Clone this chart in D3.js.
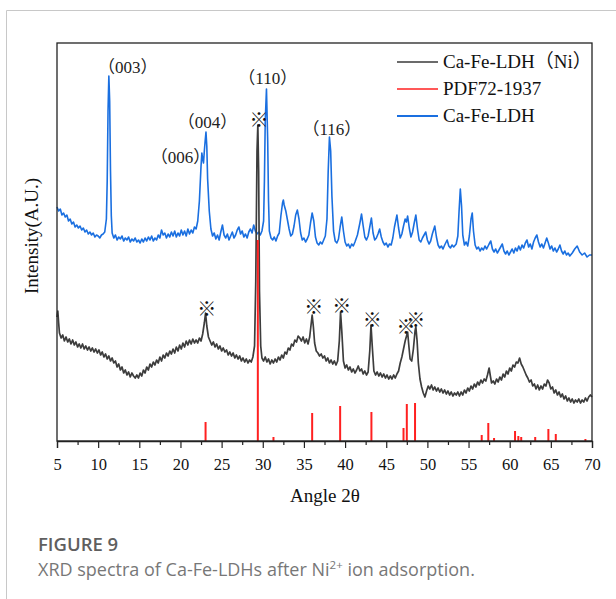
<!DOCTYPE html>
<html>
<head>
<meta charset="utf-8">
<script src="https://cdn.jsdelivr.net/npm/d3@7"></script>
<style>
  body { margin: 0; background: #fff; }
</style>
</head>
<body>
<div id="chart"></div>
<script>
var w = 616;
var h = 599;

// Ca-Fe-LDH (blue), [2theta, intensity a.u.]
var ldh = [
  [5.0,234],[5.2,230],[5.4,232],[5.6,226],[5.8,228],[6.0,224],[6.2,226],[6.4,220],[6.6,222],[6.8,217],
  [7.0,219],[7.2,214],[7.4,216],[7.6,213],[7.8,215],[8.0,211],[8.2,213],[8.4,209],[8.6,211],[8.8,207],
  [9.0,209],[9.2,206],[9.4,208],[9.6,204],[9.8,206],[10.0,205],[10.2,203],[10.4,206],[10.6,207],[10.8,209],
  [11.0,222],[11.1,260],[11.2,330],[11.3,365],[11.4,340],[11.5,270],[11.6,225],[11.7,208],[11.9,203],[12.1,206],
  [12.3,201],[12.5,204],[12.7,202],[12.9,205],[13.1,200],[13.3,203],[13.5,201],[13.7,204],[13.9,199],[14.1,202],
  [14.3,200],[14.5,203],[14.7,199],[14.9,201],[15.1,198],[15.3,202],[15.5,199],[15.7,203],[15.9,200],[16.1,204],
  [16.3,201],[16.5,205],[16.7,200],[16.9,203],[17.1,201],[17.3,206],[17.5,203],[17.7,211],[17.9,206],[18.1,208],
  [18.3,203],[18.5,207],[18.7,204],[18.9,209],[19.1,205],[19.3,210],[19.5,204],[19.7,208],[19.9,205],[20.1,211],
  [20.3,206],[20.5,210],[20.7,205],[20.9,212],[21.1,207],[21.3,211],[21.5,208],[21.7,214],[21.9,212],[22.1,220],
  [22.3,240],[22.5,275],[22.6,288],[22.7,282],[22.8,278],[22.9,290],[23.0,300],[23.1,309],[23.2,295],[23.3,262],
  [23.5,230],[23.7,212],[23.9,205],[24.1,208],[24.3,202],[24.5,206],[24.7,201],[24.9,209],[25.1,216],[25.3,206],
  [25.5,203],[25.7,207],[25.9,201],[26.1,205],[26.3,209],[26.5,203],[26.7,206],[26.9,211],[27.1,214],[27.3,207],
  [27.5,210],[27.7,204],[27.9,207],[28.1,203],[28.3,209],[28.5,212],[28.7,208],[28.9,216],[29.1,210],[29.3,207],
  [29.5,209],[29.7,206],[29.9,210],[30.1,220],[30.2,260],[30.3,320],[30.45,352],[30.6,300],[30.7,240],[30.8,210],
  [31.0,203],[31.2,201],[31.4,204],[31.6,200],[31.8,205],[32.0,208],[32.2,225],[32.4,238],[32.5,241],[32.6,236],
  [32.8,230],[33.0,221],[33.2,212],[33.4,205],[33.6,207],[33.8,215],[34.0,226],[34.2,231],[34.4,222],[34.6,208],
  [34.8,201],[35.0,203],[35.2,199],[35.4,202],[35.6,206],[35.8,218],[36.0,228],[36.2,220],[36.4,204],[36.6,198],
  [36.8,196],[37.0,199],[37.2,197],[37.4,201],[37.6,205],[37.8,222],[37.95,270],[38.1,304],[38.25,290],[38.4,245],
  [38.6,210],[38.8,200],[39.0,198],[39.2,202],[39.4,214],[39.6,224],[39.8,210],[40.0,199],[40.2,195],[40.4,197],
  [40.6,193],[40.8,197],[41.0,195],[41.2,199],[41.5,206],[41.8,218],[42.0,227],[42.2,215],[42.4,204],[42.6,201],
  [42.8,205],[43.0,214],[43.2,223],[43.4,208],[43.6,201],[43.8,203],[44.0,207],[44.2,212],[44.4,204],[44.6,199],
  [44.8,196],[45.0,198],[45.2,194],[45.4,197],[45.6,196],[45.8,203],[46.0,214],[46.3,226],[46.5,213],[46.7,203],
  [46.9,207],[47.1,215],[47.3,222],[47.45,219],[47.6,225],[47.8,213],[48.0,204],[48.2,209],[48.4,218],[48.6,226],
  [48.8,212],[49.0,201],[49.2,199],[49.4,203],[49.6,206],[49.8,209],[50.0,201],[50.2,197],[50.4,200],[50.6,207],
  [50.9,215],[51.1,204],[51.3,196],[51.5,193],[51.7,195],[51.9,192],[52.1,196],[52.4,201],[52.6,195],[52.8,193],
  [53.0,196],[53.2,194],[53.5,197],[53.7,205],[53.85,230],[54.0,252],[54.15,235],[54.3,206],[54.5,196],[54.7,199],
  [54.9,195],[55.1,205],[55.3,222],[55.45,228],[55.6,210],[55.8,196],[56.0,192],[56.2,194],[56.4,190],[56.6,193],
  [56.8,191],[57.0,195],[57.2,192],[57.5,197],[57.7,200],[57.9,192],[58.1,189],[58.3,192],[58.5,188],[58.7,191],
  [58.9,194],[59.1,197],[59.3,190],[59.5,187],[59.7,190],[59.9,186],[60.1,189],[60.3,192],[60.5,188],[60.7,193],
  [60.9,190],[61.1,195],[61.3,191],[61.5,196],[61.7,193],[61.9,198],[62.1,201],[62.3,194],[62.5,197],[62.7,192],
  [62.9,199],[63.1,203],[63.3,206],[63.5,199],[63.7,194],[63.9,197],[64.1,193],[64.3,198],[64.5,203],[64.7,198],
  [64.9,192],[65.1,195],[65.3,190],[65.5,193],[65.7,189],[65.9,192],[66.1,196],[66.3,190],[66.5,187],[66.7,190],
  [66.9,186],[67.1,188],[67.3,185],[67.6,188],[67.9,192],[68.2,195],[68.5,189],[68.8,186],[69.1,188],[69.4,184],
  [69.7,186],[70.0,186]
];

// Ca-Fe-LDH (Ni) (dark grey)
var ldhNi = [
  [5.0,124],[5.1,130],[5.2,118],[5.3,108],[5.5,103],[5.7,106],[5.9,100],[6.1,104],[6.3,99],[6.5,102],
  [6.7,97],[6.9,101],[7.1,96],[7.3,99],[7.5,94],[7.7,97],[7.9,93],[8.1,97],[8.3,92],[8.5,95],
  [8.7,91],[8.9,94],[9.1,90],[9.3,93],[9.5,89],[9.7,92],[9.9,88],[10.1,91],[10.3,86],[10.5,89],
  [10.7,84],[10.9,87],[11.1,82],[11.3,85],[11.5,80],[11.7,83],[11.9,78],[12.1,80],[12.3,74],[12.5,77],
  [12.7,71],[12.9,74],[13.1,68],[13.3,71],[13.5,66],[13.7,69],[13.9,64],[14.1,68],[14.3,65],[14.5,63],
  [14.7,66],[14.9,63],[15.1,68],[15.3,65],[15.5,71],[15.7,68],[15.9,74],[16.1,71],[16.3,77],[16.5,74],
  [16.7,79],[16.9,76],[17.1,81],[17.3,78],[17.5,84],[17.7,80],[17.9,86],[18.1,83],[18.3,88],[18.5,85],
  [18.7,90],[18.9,87],[19.1,92],[19.3,88],[19.5,94],[19.7,90],[19.9,96],[20.1,92],[20.3,98],[20.5,94],
  [20.7,100],[20.9,96],[21.1,101],[21.3,97],[21.5,102],[21.7,98],[21.9,101],[22.1,98],[22.3,103],[22.5,100],
  [22.7,107],[22.9,118],[23.05,128],[23.2,115],[23.4,104],[23.6,100],[23.8,96],[24.0,99],[24.2,94],[24.4,97],
  [24.6,92],[24.8,95],[25.0,90],[25.2,93],[25.4,89],[25.6,91],[25.8,86],[26.0,89],[26.2,85],[26.4,88],
  [26.6,83],[26.8,86],[27.0,82],[27.2,85],[27.4,80],[27.6,83],[27.8,79],[28.0,82],[28.2,78],[28.4,81],
  [28.6,79],[28.8,84],[29.0,95],[29.15,160],[29.3,290],[29.4,316],[29.5,270],[29.6,150],[29.75,95],[29.9,83],
  [30.1,80],[30.3,84],[30.5,79],[30.7,82],[30.9,77],[31.1,81],[31.3,78],[31.5,82],[31.7,79],[31.9,84],
  [32.1,81],[32.3,86],[32.5,83],[32.7,89],[32.9,87],[33.1,93],[33.3,91],[33.5,97],[33.7,95],[33.9,101],
  [34.1,99],[34.3,105],[34.5,103],[34.7,100],[34.9,104],[35.1,98],[35.3,102],[35.5,97],[35.7,104],[35.85,115],
  [36.0,126],[36.15,114],[36.3,98],[36.5,90],[36.7,88],[36.9,85],[37.1,87],[37.3,83],[37.5,85],[37.7,80],
  [37.9,83],[38.1,78],[38.3,81],[38.5,77],[38.7,80],[38.9,76],[39.1,80],[39.3,100],[39.45,129],[39.6,110],
  [39.8,80],[40.0,73],[40.2,76],[40.4,71],[40.6,74],[40.8,69],[41.0,72],[41.2,68],[41.4,71],[41.6,75],
  [41.8,70],[42.0,72],[42.2,67],[42.4,70],[42.6,66],[42.8,69],[43.0,90],[43.15,116],[43.3,95],[43.5,70],
  [43.7,66],[43.9,69],[44.1,65],[44.3,68],[44.5,64],[44.7,67],[44.9,63],[45.1,66],[45.3,62],[45.5,65],
  [45.7,62],[45.9,66],[46.1,63],[46.3,67],[46.5,70],[46.7,78],[46.9,84],[47.1,92],[47.3,100],[47.5,106],
  [47.6,109],[47.75,95],[47.9,82],[48.1,80],[48.3,92],[48.5,110],[48.6,114],[48.75,100],[48.9,78],[49.1,62],
  [49.3,54],[49.5,48],[49.7,44],[49.9,50],[50.1,55],[50.3,52],[50.5,56],[50.7,51],[50.9,54],[51.1,50],
  [51.3,53],[51.5,49],[51.7,52],[51.9,48],[52.1,51],[52.3,47],[52.5,50],[52.7,46],[52.9,49],[53.1,45],
  [53.3,48],[53.5,46],[53.7,49],[53.9,45],[54.1,49],[54.3,46],[54.5,51],[54.7,48],[54.9,53],[55.1,50],
  [55.3,55],[55.5,52],[55.7,57],[55.9,54],[56.1,59],[56.3,56],[56.5,61],[56.7,58],[56.9,62],[57.1,60],
  [57.3,66],[57.5,73],[57.65,65],[57.8,58],[58.0,60],[58.2,57],[58.4,62],[58.6,59],[58.8,64],[59.0,61],
  [59.2,67],[59.4,64],[59.6,70],[59.8,67],[60.0,73],[60.2,70],[60.4,76],[60.6,74],[60.8,79],[61.0,78],
  [61.2,83],[61.4,77],[61.6,74],[61.8,70],[62.0,66],[62.2,63],[62.4,59],[62.6,61],[62.8,55],[63.0,57],
  [63.2,52],[63.4,56],[63.6,51],[63.8,55],[64.0,52],[64.2,57],[64.4,55],[64.6,61],[64.8,58],[65.0,52],
  [65.2,54],[65.4,48],[65.6,51],[65.8,46],[66.0,49],[66.2,44],[66.4,47],[66.6,42],[66.8,45],[67.0,40],
  [67.2,43],[67.4,39],[67.6,42],[67.8,38],[68.0,41],[68.2,39],[68.4,42],[68.6,38],[68.8,41],[69.0,39],
  [69.2,43],[69.4,40],[69.6,44],[69.8,46],[70.0,44]
];

// PDF72-1937 reference sticks
var pdfAngles  = [23.05, 29.4, 31.3, 36.0, 39.4, 43.2, 47.1, 47.5, 48.5, 56.6, 57.4, 58.1, 60.65, 61.05, 61.4, 63.1, 64.7, 65.6, 69.2];
var pdfHeights = [19, 201, 4, 28, 35, 29, 13, 37, 38, 6, 18, 3, 10, 5, 4, 4, 12, 7, 2];

// peak labels on the blue pattern: [hkl, angle, intensity]
var hklLabels = [
  ["003", 13.6, 374],
  ["006", 20.0, 284],
  ["004", 23.3, 319],
  ["110", 30.6, 363],
  ["116", 38.4, 312]
];
// ※ marks: [angle, intensity]
var starMarks = [[29.55, 321], [23.2, 132], [36.2, 134], [39.6, 135], [43.3, 121], [47.4, 114], [48.6, 121]];

var majorTicks = d3.range(5, 71, 5);
var minorTicks = d3.range(7.5, 70, 5);

var legendNames  = ["Ca-Fe-LDH", "PDF72-1937", "Ca-Fe-LDH"];
var legendTags   = ["Ni", "", ""];
var legendColors = ["#3a3a3a", "#ff2020", "#1a6fe0"];

var serif = "'Liberation Serif', 'Times New Roman', serif";
var cjk = "'Noto Sans CJK SC', sans-serif";

var svg = d3.select("#chart")
            .append("svg")
            .attr("width", w)
            .attr("height", h);

svg.append("rect").attr("width", w).attr("height", h).attr("fill", "#fff");

// card edges
svg.append("line").attr("x1", 6.5).attr("x2", 6.5).attr("y1", 10.5).attr("y2", h)
   .attr("stroke", "#c8c8c8");
svg.append("line").attr("x1", 6.5).attr("x2", w).attr("y1", 10.5).attr("y2", 10.5)
   .attr("stroke", "#c8c8c8");

var xScale = d3.scaleLinear().domain([5, 70]).range([57, 592]);
var yScale = d3.scaleLinear().domain([0, 398]).range([441, 43]);

var line = d3.line()
             .x(function(d) { return xScale(d[0]); })
             .y(function(d) { return yScale(d[1]); });

svg.append("path")
   .datum(ldh)
   .attr("d", line)
   .attr("fill", "none")
   .attr("stroke", "#1a6fe0")
   .attr("stroke-width", 1.6)
   .attr("stroke-linejoin", "round");

svg.append("path")
   .datum(ldhNi)
   .attr("d", line)
   .attr("fill", "none")
   .attr("stroke", "#3d3d3d")
   .attr("stroke-width", 1.7)
   .attr("stroke-linejoin", "round");

svg.selectAll(".stick")
   .data(pdfAngles)
   .enter()
   .append("line")
   .attr("x1", function(d) { return xScale(d); })
   .attr("x2", function(d) { return xScale(d); })
   .attr("y1", yScale(0))
   .attr("y2", function(d, i) { return yScale(pdfHeights[i]); })
   .attr("stroke", "#ff2020")
   .attr("stroke-width", 2);

// frame
svg.append("rect")
   .attr("x", 57).attr("y", 43)
   .attr("width", 535).attr("height", 398)
   .attr("fill", "none")
   .attr("stroke", "#222")
   .attr("stroke-width", 1.3);

var xAxis = svg.append("g")
   .attr("transform", "translate(0,441)")
   .call(d3.axisBottom(xScale).tickValues(majorTicks).tickSize(7).tickPadding(10));
xAxis.select(".domain").attr("stroke", "#222").attr("stroke-width", 1.3);
xAxis.selectAll(".tick line").attr("stroke", "#222").attr("stroke-width", 1.2);
xAxis.selectAll("text")
     .attr("font-family", serif)
     .attr("font-size", 16.5)
     .attr("fill", "#111");

var xMinor = svg.append("g")
   .attr("transform", "translate(0,441)")
   .call(d3.axisBottom(xScale).tickValues(minorTicks).tickSize(4).tickFormat(""));
xMinor.select(".domain").remove();
xMinor.selectAll(".tick line").attr("stroke", "#222").attr("stroke-width", 1.2);

svg.append("text")
   .attr("x", 325).attr("y", 502)
   .attr("text-anchor", "middle")
   .attr("font-family", serif)
   .attr("font-size", 19)
   .attr("fill", "#111")
   .text("Angle 2θ");

svg.append("text")
   .attr("transform", "translate(38,236) rotate(-90)")
   .attr("text-anchor", "middle")
   .attr("font-family", serif)
   .attr("font-size", 19)
   .attr("fill", "#111")
   .text("Intensity(A.U.)");

var hkl = svg.selectAll(".hkl")
   .data(hklLabels)
   .enter()
   .append("text")
   .attr("x", function(d) { return xScale(d[1]); })
   .attr("y", function(d) { return yScale(d[2]); })
   .attr("dy", "0.35em")
   .attr("text-anchor", "middle")
   .attr("font-family", serif)
   .attr("font-size", 17)
   .attr("fill", "#222");
hkl.append("tspan").attr("font-family", cjk).text("（");
hkl.append("tspan").text(function(d) { return d[0]; });
hkl.append("tspan").attr("font-family", cjk).text("）");

svg.selectAll(".star")
   .data(starMarks)
   .enter()
   .append("text")
   .attr("x", function(d) { return xScale(d[0]); })
   .attr("y", function(d) { return yScale(d[1]); })
   .attr("dy", "0.36em")
   .attr("text-anchor", "middle")
   .attr("font-family", cjk)
   .attr("font-size", 19)
   .attr("fill", "#111")
   .text("※");

var legend = svg.selectAll(".legend")
   .data(legendNames)
   .enter()
   .append("g")
   .attr("transform", function(d, i) { return "translate(397," + (62 + i * 27) + ")"; });
legend.append("line")
   .attr("x1", 0).attr("x2", 41)
   .attr("stroke", function(d, i) { return legendColors[i]; })
   .attr("stroke-width", function(d, i) { return i == 2 ? 2 : 1.5; });
var legendText = legend.append("text")
   .attr("x", 46).attr("dy", "0.33em")
   .attr("font-family", serif)
   .attr("font-size", 19)
   .attr("fill", "#111");
legendText.append("tspan").text(function(d) { return d; });
legendText.filter(function(d, i) { return legendTags[i] != ""; })
   .each(function(d, i) {
     var t = d3.select(this);
     t.append("tspan").attr("font-family", cjk).text("（");
     t.append("tspan").text(legendTags[0]);
     t.append("tspan").attr("font-family", cjk).text("）");
   });

// caption
svg.append("text")
   .attr("x", 38).attr("y", 551)
   .attr("font-family", "'Open Sans', sans-serif")
   .attr("font-weight", 600)
   .attr("font-size", 18.5)
   .attr("fill", "#5f5f5f")
   .text("FIGURE 9");

var cap = svg.append("text")
   .attr("x", 38).attr("y", 576)
   .attr("font-family", "'Open Sans', sans-serif")
   .attr("font-size", 18)
   .attr("fill", "#777");
cap.append("tspan").text("XRD spectra of Ca-Fe-LDHs after Ni");
cap.append("tspan").attr("dy", -7).attr("font-size", 11.5).text("2+");
cap.append("tspan").attr("dy", 7).text(" ion adsorption.");
</script>
</body>
</html>
